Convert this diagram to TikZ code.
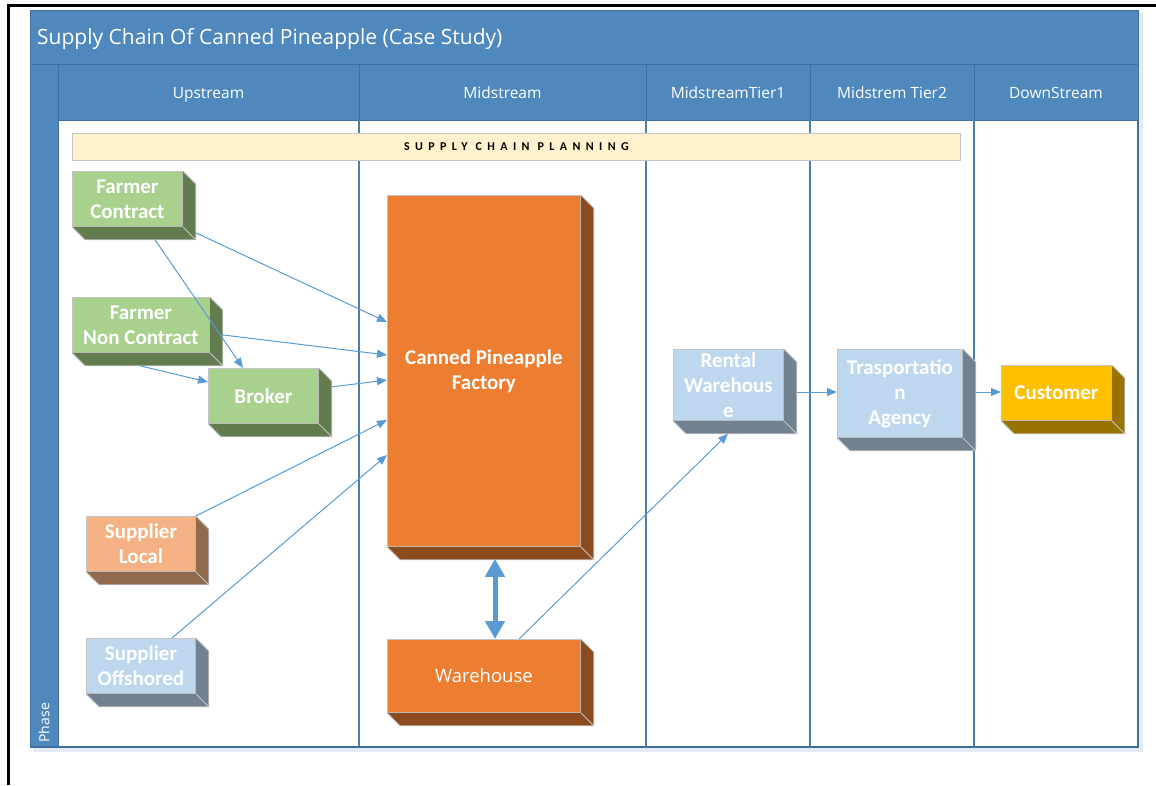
\documentclass[tikz,border=0pt]{standalone}
\usepackage{fontspec}
\setmainfont{Carlito}
\newfontfamily\spacedfont[LetterSpace=45]{Carlito}
\newfontfamily\uifont{Open Sans}
\usetikzlibrary{calc,arrows.meta}
\definecolor{hdr}{HTML}{4F88BD}
\definecolor{hdrline}{HTML}{3F6F9C}
\definecolor{lane}{HTML}{4A7EB0}
\definecolor{glow}{HTML}{E3ECF6}
\definecolor{plan}{HTML}{FFF2CC}
\definecolor{flow}{HTML}{5B9BD5}
\definecolor{edge}{HTML}{C4C4C4}
\definecolor{greenF}{HTML}{A9D18E}
\definecolor{greenS}{HTML}{627C4E}
\definecolor{orangeF}{HTML}{ED7D31}
\definecolor{orangeS}{HTML}{8C4A1F}
\definecolor{peachF}{HTML}{F4B183}
\definecolor{peachS}{HTML}{916A4E}
\definecolor{blueF}{HTML}{BDD7EE}
\definecolor{blueS}{HTML}{718190}
\definecolor{goldF}{HTML}{FFC000}
\definecolor{goldS}{HTML}{997300}
% extruded face on the right and bottom of a block
\newcommand\extrude[2]{%
  \fill[#2] (#1.north east) -- ++(13,13) -- ($(#1.south east)+(13,13)$)
    -- ($(#1.south west)+(13,13)$) -- (#1.south west) -- (#1.south east) -- cycle;
  \draw[edge,line width=0.8pt] (#1.north east) -- ++(13,13) -- ($(#1.south east)+(13,13)$)
    -- ($(#1.south west)+(13,13)$) -- (#1.south west);
  \draw[edge,line width=0.8pt] (#1.south east) -- ++(13,13);}
\begin{document}
\begin{tikzpicture}[x=1pt,y=-1pt,
  hdrcell/.style={fill=hdr,draw=hdrline,line width=1pt},
  hdrtext/.style={text=white,font=\uifont\fontsize{15.5}{18}\selectfont},
  lanelabel/.style={hdrtext,anchor=base},
  block/.style={draw=edge,line width=0.8pt,anchor=north west,inner sep=2pt,
    align=center,text=white,font=\fontsize{21}{25}\selectfont\bfseries},
  flowline/.style={draw=flow,line width=1pt,-{Triangle[length=10pt,width=8pt]}}]
\useasboundingbox (0,0) rectangle (1156,785);
\fill[white] (0,0) rectangle (1156,785);
% page frame
\draw[black,line width=3pt] (8,785) -- (8,5) -- (1156,5);
% soft glow round the pool
\draw[glow,line width=4pt] (33,750) -- (1141,750) -- (1141,13);
% pool body
\fill[white] (58,120) rectangle (1138,747);
% title band and lane headers
\path[hdrcell] (30,10) rectangle (1138,64);
\node[hdrtext,font=\uifont\fontsize{21}{24}\selectfont,anchor=west,inner sep=0pt] (title) at (37,38.5) {Supply Chain Of Canned Pineapple (Case Study)};
\path[hdrcell] (30,64) rectangle (58,747);
\node[hdrtext,font=\uifont\fontsize{14}{16}\selectfont,rotate=90,anchor=west] (phase) at (44,746) {Phase};
\path[hdrcell] (58,64) rectangle (359,120);
\path[hdrcell] (359,64) rectangle (646,120);
\path[hdrcell] (646,64) rectangle (810,120);
\path[hdrcell] (810,64) rectangle (974,120);
\path[hdrcell] (974,64) rectangle (1138,120);
\node[lanelabel] (h1) at (208.5,98) {Upstream};
\node[lanelabel] (h2) at (502.5,98) {Midstream};
\node[lanelabel] (h3) at (728,98) {MidstreamTier1};
\node[lanelabel] (h4) at (892,98) {Midstrem Tier2};
\node[lanelabel] (h5) at (1056,98) {DownStream};
% lane separators
\foreach \lx in {359,646,810,974} \draw[lane,line width=1.2pt] (\lx,120) -- (\lx,747);
\draw[hdrline,line width=1.2pt] (30,747) -- (1138,747) -- (1138,120);
% planning band
\node[draw=edge,fill=plan,line width=0.8pt,minimum width=888pt,minimum height=27pt,anchor=north west,inner sep=0pt,
  font=\spacedfont\fontsize{12}{14}\selectfont\bfseries] (planning) at (72,133) {SUPPLY CHAIN PLANNING};
% blocks
\node[block,fill=greenF,minimum width=110pt,minimum height=55pt] (fc) at (72,171) {Farmer\\Contract};
\node[block,fill=greenF,minimum width=137pt,minimum height=55pt] (fnc) at (72,297) {Farmer\\Non Contract};
\node[block,fill=greenF,minimum width=110pt,minimum height=55pt] (br) at (208,368) {Broker};
\node[block,fill=peachF,minimum width=109pt,minimum height=55pt] (sl) at (86,516) {Supplier\\Local};
\node[block,fill=blueF,minimum width=109pt,minimum height=55pt] (so) at (86,638) {Supplier\\Offshored};
\node[block,fill=orangeF,minimum width=193pt,minimum height=351pt] (fac) at (387,195) {Canned Pineapple\\Factory};
\node[block,fill=orangeF,minimum width=193pt,minimum height=73pt,font=\uifont\fontsize{18.5}{25}\selectfont] (wh) at (387,639) {Warehouse};
\node[block,fill=blueF,minimum width=110pt,minimum height=71pt] (rw) at (673,349) {Rental\\Warehous\\e};
\node[block,fill=blueF,minimum width=125pt,minimum height=88pt] (ta) at (837,349) {Trasportatio\\n\\Agency};
\node[block,fill=goldF,minimum width=110pt,minimum height=55pt] (cu) at (1001,365) {Customer};
\extrude{fc}{greenS}
\extrude{fnc}{greenS}
\extrude{br}{greenS}
\extrude{sl}{peachS}
\extrude{so}{blueS}
\extrude{fac}{orangeS}
\extrude{wh}{orangeS}
\extrude{rw}{blueS}
\extrude{ta}{blueS}
\extrude{cu}{goldS}
% flows
\draw[flowline] ($(fc.south east)+(13,6)$) -- ($(fac.north west)+(0,127)$);
\draw[flowline] ($(fc.south west)+(83,13)$) -- ($(br.north west)+(35,0)$);
\draw[flowline] ($(fnc.east)+(13,10)$) -- ($(fac.north west)+(0,160)$);
\draw[flowline] ($(fnc.south west)+(68,13)$) -- ($(br.north west)+(0,14)$);
\draw[flowline] ($(br.east)+(13,-9)$) -- ($(fac.north west)+(0,185)$);
\draw[flowline] (sl.north east) -- ($(fac.north west)+(0,225)$);
\draw[flowline] ($(so.north west)+(86,0)$) -- ($(fac.north west)+(0,260)$);
\draw[flowline] ($(wh.north west)+(132,0)$) -- ($(rw.south west)+(55,13)$);
\draw[flowline] ($(rw.north east)+(13,43)$) -- ($(ta.north west)+(0,43)$);
\draw[flowline] ($(ta.north east)+(13,43)$) -- ($(cu.north west)+(0,27)$);
\draw[flow,line width=5pt,{Triangle[length=18pt,width=19pt]}-{Triangle[length=18pt,width=19pt]}]
  ($(fac.south west)+(108,12)$) -- ($(wh.north west)+(108,0)$);
\end{tikzpicture}
\end{document}
